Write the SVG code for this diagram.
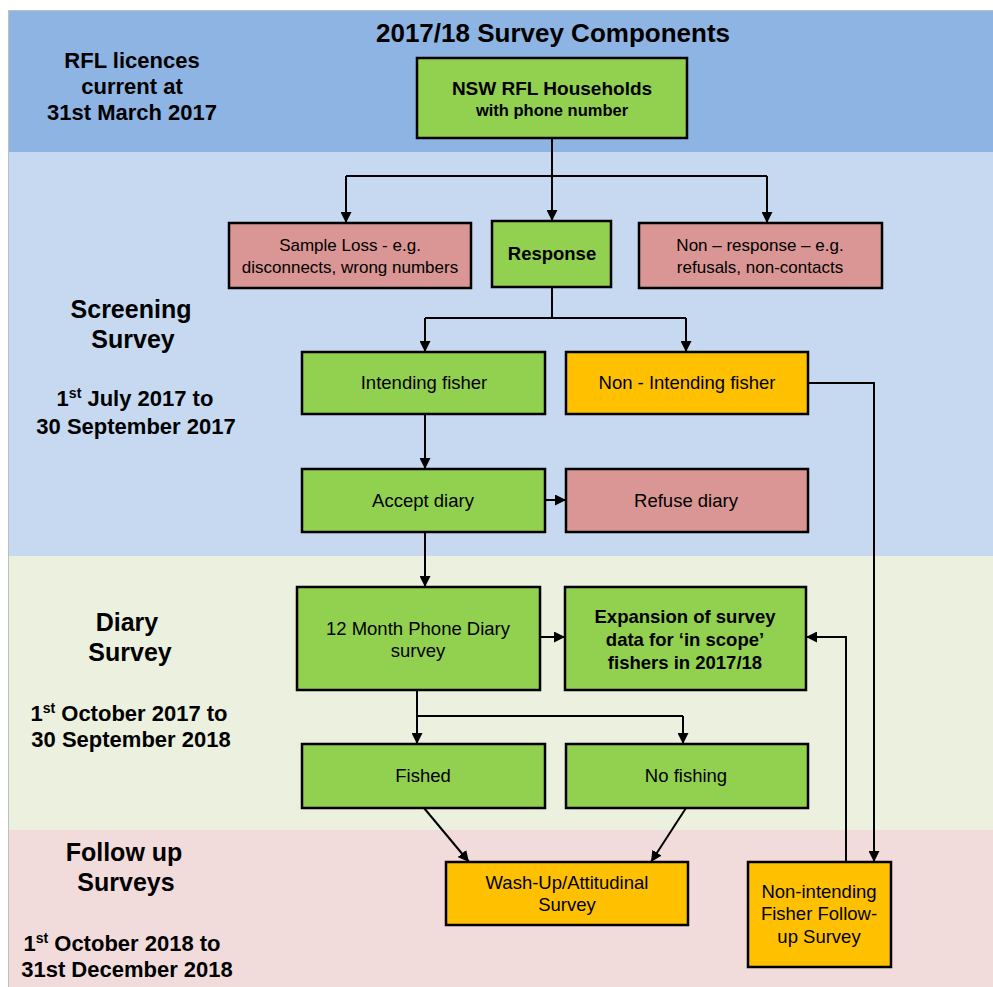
<svg xmlns="http://www.w3.org/2000/svg" width="993" height="987" viewBox="0 0 993 987">
<style>
.box{stroke:#000;stroke-width:2.5}
.g{fill:#92D050}.p{fill:#D99694}.o{fill:#FFC000}
text{font-family:"Liberation Sans",Arial,sans-serif;fill:#000;text-anchor:middle}
.t{font-size:18.5px}
.ts{font-size:17px}
.tb{font-size:18.5px;font-weight:bold}
.lab{font-size:25px;font-weight:bold}
.date{font-size:22px;font-weight:bold}
.c{fill:none;stroke:#000;stroke-width:2}
</style>
<defs>
<marker id="ah" viewBox="0 0 10 10" refX="10" refY="5" markerWidth="11" markerHeight="11" markerUnits="userSpaceOnUse" orient="auto">
<path d="M0,0 L10,5 L0,10 z" fill="#000"/>
</marker>
</defs>
<rect x="0" y="0" width="993" height="987" fill="#fff"/>
<g id="bands">
<rect x="8" y="10" width="985" height="142" fill="#8EB4E3"/>
<rect x="8" y="152" width="985" height="404" fill="#C6D9F1"/>
<rect x="8" y="556" width="985" height="274" fill="#EBF1DE"/>
<rect x="8" y="830" width="985" height="157" fill="#F2DCDB"/>
<path d="M8.5,987 V10.5 H993" fill="none" stroke="#BFBFBF" stroke-width="1"/>
</g>
<g id="labels">
<text x="553" y="42" style="font-size:26px;font-weight:bold">2017/18 Survey Components</text>
<text x="132" y="68" class="date">RFL licences</text>
<text x="132" y="94" class="date">current at</text>
<text x="132" y="120" class="date">31st March 2017</text>
<text x="131" y="318" class="lab">Screening</text>
<text x="133" y="348" class="lab">Survey</text>
<text x="135" y="406" class="date">1<tspan baseline-shift="super" style="font-size:14px">st</tspan> July 2017 to</text>
<text x="136" y="434" class="date">30 September 2017</text>
<text x="127" y="631" class="lab">Diary</text>
<text x="130" y="661" class="lab">Survey</text>
<text x="129" y="721" class="date">1<tspan baseline-shift="super" style="font-size:14px">st</tspan> October 2017 to</text>
<text x="131" y="747" class="date">30 September 2018</text>
<text x="124" y="861" class="lab">Follow up</text>
<text x="126" y="891" class="lab">Surveys</text>
<text x="122" y="951" class="date">1<tspan baseline-shift="super" style="font-size:14px">st</tspan> October 2018 to</text>
<text x="127" y="977" class="date">31st December 2018</text>
</g>
<g id="connectors">
<path class="c" d="M552,138 V176"/>
<path class="c" d="M346,176 H767"/>
<path class="c" d="M346,176 V223" marker-end="url(#ah)"/>
<path class="c" d="M552,176 V221" marker-end="url(#ah)"/>
<path class="c" d="M767,176 V223" marker-end="url(#ah)"/>
<path class="c" d="M552,287 V318 M425,318 H686"/>
<path class="c" d="M425,318 V352" marker-end="url(#ah)"/>
<path class="c" d="M686,318 V352" marker-end="url(#ah)"/>
<path class="c" d="M808,383 H874 V862" marker-end="url(#ah)"/>
<path class="c" d="M425,414 V469" marker-end="url(#ah)"/>
<path class="c" d="M545,500 H566" marker-end="url(#ah)"/>
<path class="c" d="M425,532 V587" marker-end="url(#ah)"/>
<path class="c" d="M540,637 H565" marker-end="url(#ah)"/>
<path class="c" d="M846,862 V637 H806" marker-end="url(#ah)"/>
<path class="c" d="M417,690 V716 H683"/>
<path class="c" d="M417,716 V744" marker-end="url(#ah)"/>
<path class="c" d="M683,716 V744" marker-end="url(#ah)"/>
<path class="c" d="M424,808 L469,862" marker-end="url(#ah)"/>
<path class="c" d="M686,808 L651,862" marker-end="url(#ah)"/>
</g>
<g id="n-households">
<rect class="box g" x="417" y="58" width="270" height="80"/>
<text x="552" y="95" style="font-size:19px;font-weight:bold">NSW RFL Households</text>
<text x="552" y="116" style="font-size:16.5px;font-weight:bold">with phone number</text>
</g>
<g id="n-sampleloss">
<rect class="box p" x="229" y="223" width="242" height="65"/>
<text x="350" y="251" class="ts">Sample Loss - e.g.</text>
<text x="350" y="273" class="ts">disconnects, wrong numbers</text>
</g>
<g id="n-response">
<rect class="box g" x="492" y="221" width="119" height="66"/>
<text x="552" y="260" class="tb">Response</text>
</g>
<g id="n-nonresponse">
<rect class="box p" x="639" y="223" width="243" height="65"/>
<text x="760" y="251" class="ts">Non – response – e.g.</text>
<text x="760" y="273" class="ts">refusals, non-contacts</text>
</g>
<g id="n-intending">
<rect class="box g" x="302" y="352" width="243" height="62"/>
<text x="424" y="389" class="t">Intending fisher</text>
</g>
<g id="n-nonintending">
<rect class="box o" x="566" y="352" width="242" height="62"/>
<text x="687" y="389" class="t">Non - Intending fisher</text>
</g>
<g id="n-accept">
<rect class="box g" x="302" y="469" width="243" height="63"/>
<text x="423" y="507" class="t">Accept diary</text>
</g>
<g id="n-refuse">
<rect class="box p" x="566" y="469" width="242" height="63"/>
<text x="686" y="507" class="t">Refuse diary</text>
</g>
<g id="n-diary">
<rect class="box g" x="297" y="587" width="243" height="103"/>
<text x="418" y="635" class="t">12 Month Phone Diary</text>
<text x="418" y="657" class="t">survey</text>
</g>
<g id="n-expansion">
<rect class="box g" x="565" y="587" width="241" height="103"/>
<text x="685" y="623" class="tb">Expansion of survey</text>
<text x="685" y="646" class="tb">data for ‘in scope’</text>
<text x="685" y="669" class="tb">fishers in 2017/18</text>
</g>
<g id="n-fished">
<rect class="box g" x="302" y="744" width="243" height="64"/>
<text x="423" y="782" class="t">Fished</text>
</g>
<g id="n-nofishing">
<rect class="box g" x="566" y="744" width="242" height="64"/>
<text x="686" y="782" class="t">No fishing</text>
</g>
<g id="n-washup">
<rect class="box o" x="446" y="862" width="242" height="63"/>
<text x="567" y="889" class="t">Wash-Up/Attitudinal</text>
<text x="567" y="911" class="t">Survey</text>
</g>
<g id="n-followup">
<rect class="box o" x="748" y="862" width="143" height="105"/>
<text x="819" y="898" class="t">Non-intending</text>
<text x="819" y="920" class="t">Fisher Follow-</text>
<text x="819" y="943" class="t">up Survey</text>
</g>
</svg>
